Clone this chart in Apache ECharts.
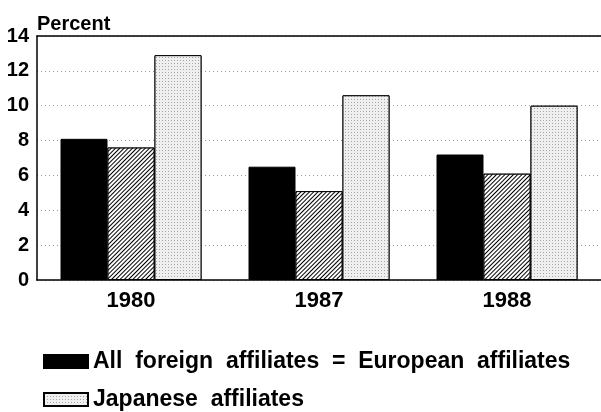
<!DOCTYPE html>
<html>
<head>
<meta charset="utf-8">
<script src="https://cdn.jsdelivr.net/npm/echarts@6/dist/echarts.min.js"></script>
<style>
  html, body { margin: 0; padding: 0; background: #fff; }
  #chart { width: 601px; height: 412px; }
</style>
</head>
<body>
<div id="chart"></div>
<script>
// data
var years = ['1980', '1987', '1988'];
var allForeign = [8.1, 6.5, 7.2];
var european = [7.6, 5.1, 6.1];
var japanese = [12.9, 10.6, 10.0];
var yTicks = [0, 2, 4, 6, 8, 10, 12, 14];

var font = 'Liberation Sans, Arial, sans-serif';
var legendText = {fontFamily: font, fontWeight: 'bold', fontSize: 23, color: '#000'};

var chart = echarts.init(document.getElementById('chart'), null, {renderer: 'canvas'});

chart.setOption({
    backgroundColor: '#fff',
    animation: false,
    grid: {left: 37, right: 0, top: 36, bottom: 132},
    //one legend per line, the scan shows only two keys
    legend: [{
        left: 38,
        top: 345,
        icon: 'rect',
        itemWidth: 44,
        itemHeight: 13,
        data: ['All foreign affiliates'],
        formatter: function () {
            return 'All  foreign  affiliates  =  European  affiliates';
        },
        textStyle: legendText
    }, {
        left: 38,
        top: 383,
        icon: 'rect',
        itemWidth: 44,
        itemHeight: 13,
        data: ['Japanese affiliates'],
        formatter: function () {
            return 'Japanese  affiliates';
        },
        textStyle: legendText
    }],
    xAxis: [{
        type: 'category',
        data: years,
        axisLine: {lineStyle: {color: '#000', width: 1.5}},
        axisTick: {show: false},
        axisLabel: {fontFamily: font, fontWeight: 'bold', fontSize: 22, color: '#000', margin: 10}
    }, {
        type: 'category',
        data: years,
        position: 'top',
        axisLine: {lineStyle: {color: '#000', width: 1.5}},
        axisTick: {show: false},
        axisLabel: {show: false}
    }],
    yAxis: {
        type: 'value',
        min: yTicks[0],
        max: yTicks[yTicks.length - 1],
        interval: 2,
        name: 'Percent',
        nameLocation: 'end',
        nameGap: 2,
        nameTextStyle: {fontFamily: font, fontWeight: 'bold', fontSize: 20, color: '#000', align: 'left', verticalAlign: 'bottom'},
        axisLine: {show: true, lineStyle: {color: '#000', width: 1.5}},
        axisTick: {show: false},
        axisLabel: {fontFamily: font, fontWeight: 'bold', fontSize: 20, color: '#000', margin: 8},
        splitLine: {lineStyle: {color: '#9a9a9a', type: [1, 3], width: 1}}
    },
    series: [{
        name: 'All foreign affiliates',
        type: 'bar',
        data: allForeign,
        barGap: '0%',
        barCategoryGap: '25%',
        itemStyle: {color: '#000', borderColor: '#000', borderWidth: 1}
    }, {
        name: 'European affiliates',
        type: 'bar',
        data: european,
        itemStyle: {
            color: '#fff', borderColor: '#000', borderWidth: 1,
            decal: {symbol: 'rect', color: '#000', backgroundColor: '#fff', dashArrayX: [1, 0], dashArrayY: [1, 2], rotation: -Math.PI / 4}
        }
    }, {
        name: 'Japanese affiliates',
        type: 'bar',
        data: japanese,
        itemStyle: {
            color: '#efefef', borderColor: '#000', borderWidth: 1,
            decal: {symbol: 'rect', symbolSize: 1, color: 'rgba(0,0,0,0.3)', backgroundColor: '#efefef', dashArrayX: [1, 2], dashArrayY: [1, 2], rotation: 0}
        }
    }]
});

window.addEventListener('resize', function () {
    chart.resize();
});
</script>
</body>
</html>
